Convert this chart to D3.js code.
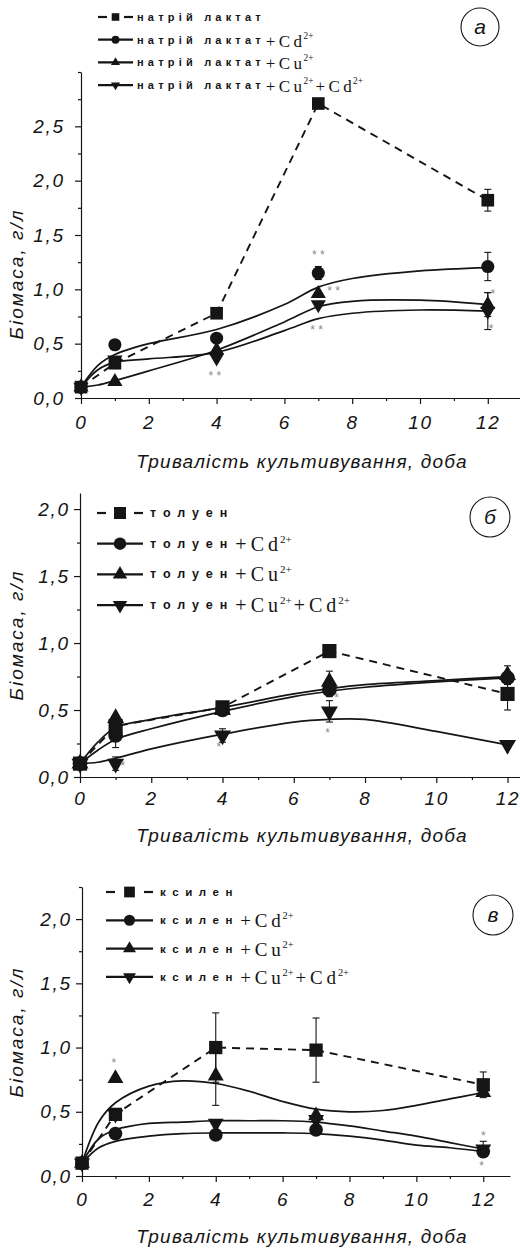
<!DOCTYPE html>
<html>
<head>
<meta charset="utf-8">
<script src="https://cdn.jsdelivr.net/npm/d3@7"></script>
<style>
  body { margin: 0; background: #fff; }
  text { font-family: "Liberation Sans", Arial, sans-serif; }
</style>
</head>
<body>
<svg id="chart" width="520" height="1250"></svg>
<script>
// sampling days (all three panels)
let days = [0, 1, 4, 7, 12];

// panel а - натрій лактат
let lactate = [0.1, 0.32, 0.78, 2.71, 1.82];
let lactateErr = [0, 0, 0, 0, 0.1];
let lactateCd = [0.1, 0.49, 0.55, 1.15, 1.21];
let lactateCdErr = [0, 0, 0, 0.06, 0.13];
let lactateCu = [0.1, 0.15, 0.44, 0.96, 0.86];
let lactateCuErr = [0, 0, 0, 0, 0.11];
let lactateCuCd = [0.1, 0.35, 0.37, 0.86, 0.8];
let lactateCuCdErr = [0, 0, 0, 0, 0.17];
// fitted curves
let lactateFitDays = [0, 0.5, 1, 2, 4, 6, 7, 8, 10, 12];
let lactateCdFit = [0.1, 0.3, 0.4, 0.5, 0.63, 0.86, 1.02, 1.1, 1.17, 1.2];
let lactateCuFit = [0.1, 0.12, 0.16, 0.25, 0.44, 0.7, 0.84, 0.89, 0.9, 0.86];
let lactateCuCdFit = [0.1, 0.26, 0.33, 0.36, 0.42, 0.62, 0.73, 0.78, 0.81, 0.8];
let lactateStars = [[7, 1.34, "* *"], [7.45, 1.01, "* *"], [6.95, 0.65, "* *"], [3.95, 0.23, "* *"], [12.15, 0.98, "*"], [12.1, 0.66, "*"]];

// panel б - толуен
let toluene = [0.1, 0.38, 0.52, 0.94, 0.62];
let tolueneErr = [0, 0, 0, 0, 0.12];
let tolueneCd = [0.1, 0.31, 0.5, 0.65, 0.74];
let tolueneCdErr = [0, 0.09, 0, 0.05, 0];
let tolueneCu = [0.1, 0.44, 0.5, 0.71, 0.76];
let tolueneCuErr = [0, 0, 0, 0.08, 0.07];
let tolueneCuCd = [0.1, 0.1, 0.31, 0.49, 0.24];
let tolueneCuCdErr = [0, 0.05, 0.05, 0.08, 0];
let tolueneFitDays = [0, 0.5, 1, 2, 4, 6, 7, 8, 10, 12];
let tolueneCdFit = [0.1, 0.2, 0.28, 0.36, 0.49, 0.6, 0.64, 0.67, 0.71, 0.74];
let tolueneCuFit = [0.1, 0.26, 0.37, 0.43, 0.52, 0.62, 0.66, 0.69, 0.72, 0.75];
let tolueneCuCdFit = [0.1, 0.11, 0.14, 0.21, 0.32, 0.41, 0.43, 0.43, 0.34, 0.24];
let tolueneStars = [[6.95, 0.35, "*"], [3.9, 0.24, "*"], [1.2, 0.1, "*"], [7.2, 0.61, "*"]];

// panel в - ксилен
let xylene = [0.1, 0.48, 1.0, 0.98, 0.71];
let xyleneErr = [0, 0, 0.27, 0.25, 0.1];
let xyleneCd = [0.1, 0.33, 0.32, 0.36, 0.19];
let xyleneCdErr = [0, 0, 0, 0, 0];
let xyleneCu = [0.1, 0.76, 0.78, 0.47, 0.65];
let xyleneCuErr = [0, 0, 0.23, 0, 0];
let xyleneCuCd = [0.1, 0.48, 0.41, 0.44, 0.21];
let xyleneCuCdErr = [0, 0, 0, 0, 0.06];
let xyleneFitDays = [0, 0.5, 1, 2, 3, 4, 5, 6, 7, 8, 9, 10, 11, 12];
let xyleneCdFit = [0.1, 0.22, 0.27, 0.31, 0.33, 0.335, 0.335, 0.335, 0.33, 0.31, 0.28, 0.24, 0.22, 0.19];
let xyleneCuFit = [0.1, 0.42, 0.57, 0.7, 0.74, 0.72, 0.66, 0.58, 0.52, 0.5, 0.51, 0.55, 0.6, 0.65];
let xyleneCuCdFit = [0.1, 0.29, 0.36, 0.41, 0.42, 0.43, 0.43, 0.43, 0.42, 0.39, 0.35, 0.31, 0.26, 0.21];
let xyleneStars = [[0.95, 0.9, "*"], [12, 0.33, "*"], [11.95, 0.1, "*"]];

// legend: ions added to the substrate
let ions = [[], ["Cd"], ["Cu"], ["Cu", "Cd"]];
let xTicks = [0, 2, 4, 6, 8, 10, 12];
let xMinorTicks = [1, 3, 5, 7, 9, 11];
let yTitle = "Біомаса, г/л";
let xTitle = "Тривалість культивування, доба";

let svg = d3.select("#chart");
let ink = "#151515";

let shapes = [d3.symbolSquare, d3.symbolCircle, d3.symbolTriangle, d3.symbolTriangle];
let turns = [0, 0, 0, 180];
let areas = [160, 135, 100, 100];

let comma = (d) => d3.format(".1f")(d).replace(".", ",");

let drawPanel = (p) => {
  let x = d3.scaleLinear().domain([0, p.xMax]).range([p.left, p.right]);
  let y = d3.scaleLinear().domain([0, p.yMax]).range([p.bottom, p.top]);
  let g = svg.append("g");

  // axes
  let styleAxis = (a) => {
    a.attr("font-family", null).attr("font-size", null);
    a.selectAll("line, path").attr("stroke", ink).attr("stroke-width", 1.2);
    a.selectAll("text")
      .attr("fill", ink)
      .attr("font-size", 19)
      .attr("font-style", "italic")
      .attr("letter-spacing", 1.8);
  };
  g.append("g")
    .attr("transform", "translate(0," + p.bottom + ")")
    .call(d3.axisBottom(x).tickValues(xTicks).tickSize(6).tickSizeOuter(0).tickPadding(p.xPad).tickFormat(d3.format("d")))
    .call(styleAxis);
  g.append("g")
    .attr("transform", "translate(0," + p.bottom + ")")
    .call(d3.axisBottom(x).tickValues(xMinorTicks).tickSize(3).tickFormat(""))
    .call((a) => a.select(".domain").remove())
    .call(styleAxis);
  g.append("g")
    .attr("transform", "translate(" + p.left + ",0)")
    .call(d3.axisLeft(y).tickValues(p.yTicks).tickSize(6).tickSizeOuter(0).tickPadding(p.yPad).tickFormat(comma))
    .call(styleAxis);
  g.append("g")
    .attr("transform", "translate(" + p.left + ",0)")
    .call(d3.axisLeft(y).tickValues(p.yMinorTicks).tickSize(3).tickFormat(""))
    .call((a) => a.select(".domain").remove())
    .call(styleAxis);

  // axis titles
  g.append("text")
    .attr("transform", "translate(23," + p.yTitleY + ") rotate(-90)")
    .attr("text-anchor", "middle")
    .attr("font-size", 19)
    .attr("font-style", "italic")
    .attr("letter-spacing", 2)
    .attr("fill", ink)
    .text(yTitle);
  g.append("text")
    .attr("x", 302)
    .attr("y", p.xTitleY)
    .attr("text-anchor", "middle")
    .attr("font-size", 19)
    .attr("font-style", "italic")
    .attr("letter-spacing", 1.2)
    .attr("fill", ink)
    .text(xTitle);

  // lines: first series dashed through the means, others fitted curves
  p.series.forEach((s, i) => {
    if (i === 0) {
      g.append("path")
        .datum(days)
        .attr("d", d3.line().x((d) => x(d)).y((d, j) => y(s.values[j])))
        .attr("fill", "none")
        .attr("stroke", ink)
        .attr("stroke-width", 1.9)
        .attr("stroke-dasharray", "8,6");
    } else {
      g.append("path")
        .datum(p.fitDays)
        .attr("d", d3.line().curve(d3.curveCatmullRom.alpha(0.5)).x((d) => x(d)).y((d, j) => y(s.fit[j])))
        .attr("fill", "none")
        .attr("stroke", ink)
        .attr("stroke-width", 1.7);
    }
  });

  // error bars
  p.series.forEach((s) => {
    let bars = days
      .map((d, j) => ({ day: d, v: s.values[j], e: s.err[j] }))
      .filter((b) => b.e > 0);
    let eg = g.selectAll(null).data(bars).enter().append("g").attr("stroke", ink).attr("stroke-width", 1.1);
    eg.append("line")
      .attr("x1", (b) => x(b.day)).attr("x2", (b) => x(b.day))
      .attr("y1", (b) => y(b.v - b.e)).attr("y2", (b) => y(b.v + b.e));
    eg.append("line")
      .attr("x1", (b) => x(b.day) - 3.5).attr("x2", (b) => x(b.day) + 3.5)
      .attr("y1", (b) => y(b.v + b.e)).attr("y2", (b) => y(b.v + b.e));
    eg.append("line")
      .attr("x1", (b) => x(b.day) - 3.5).attr("x2", (b) => x(b.day) + 3.5)
      .attr("y1", (b) => y(b.v - b.e)).attr("y2", (b) => y(b.v - b.e));
  });

  // markers
  p.series.forEach((s, i) => {
    g.selectAll(null)
      .data(days)
      .enter()
      .append("path")
      .attr("d", d3.symbol().type(shapes[i]).size(areas[i] * p.mk * p.mk))
      .attr("transform", (d, j) => "translate(" + x(d) + "," + y(s.values[j]) + ") rotate(" + turns[i] + ")")
      .attr("fill", ink);
  });

  // significance stars
  g.selectAll(null)
    .data(p.stars)
    .enter()
    .append("text")
    .attr("x", (d) => x(d[0]))
    .attr("y", (d) => y(d[1]))
    .attr("dy", "0.55em")
    .attr("text-anchor", "middle")
    .attr("font-size", 12)
    .attr("fill", "#8a8a8a")
    .text((d) => d[2]);

  // legend
  let lg = p.legend;
  p.series.forEach((s, i) => {
    let ly = lg.y0 + i * lg.step;
    let mid = (lg.x0 + lg.x1) / 2;
    if (i === 0) {
      g.append("line").attr("x1", lg.x0).attr("x2", lg.x0 + 9).attr("y1", ly).attr("y2", ly)
        .attr("stroke", ink).attr("stroke-width", 2.2);
      g.append("line").attr("x1", lg.x1 - 9).attr("x2", lg.x1).attr("y1", ly).attr("y2", ly)
        .attr("stroke", ink).attr("stroke-width", 2.2);
    } else {
      g.append("line").attr("x1", lg.x0).attr("x2", lg.x1).attr("y1", ly).attr("y2", ly)
        .attr("stroke", ink).attr("stroke-width", 2.2);
    }
    g.append("path")
      .attr("d", d3.symbol().type(shapes[i]).size(areas[i] * lg.mk * lg.mk))
      .attr("transform", "translate(" + mid + "," + ly + ") rotate(" + turns[i] + ")")
      .attr("fill", ink);

    let t = g.append("text").attr("x", lg.tx).attr("y", ly + 4).attr("fill", ink);
    t.append("tspan")
      .attr("font-size", lg.fs)
      .attr("font-weight", "bold")
      .attr("letter-spacing", lg.ls)
      .text(p.word);
    ions[i].forEach((ion, k) => {
      t.append("tspan")
        .attr("font-family", "'Liberation Serif', 'Times New Roman', serif")
        .attr("font-size", lg.serif)
        .attr("letter-spacing", lg.serif * 0.2)
        .attr("dx", k === 0 ? 1 : 2)
        .attr("dy", k === 0 ? 3 : 8)
        .text("+" + ion);
      t.append("tspan")
        .attr("font-family", "'Liberation Serif', 'Times New Roman', serif")
        .attr("font-size", lg.serif * 0.55)
        .attr("dx", -2)
        .attr("dy", -8)
        .text("2+");
    });
  });

  // panel badge
  g.append("circle")
    .attr("cx", p.badge[0]).attr("cy", p.badge[1]).attr("r", p.badge[2])
    .attr("fill", "none").attr("stroke", ink).attr("stroke-width", 1.1);
  g.append("text")
    .attr("x", p.badge[0]).attr("y", p.badge[1] + 7)
    .attr("text-anchor", "middle")
    .attr("font-size", 21)
    .attr("font-style", "italic")
    .attr("fill", ink)
    .text(p.badge[3]);
};

drawPanel({
  left: 81, right: 520, xMax: 12.95, top: 72, bottom: 398, yMax: 3.0,
  yTicks: [0, 0.5, 1, 1.5, 2, 2.5], yMinorTicks: [0.25, 0.75, 1.25, 1.75, 2.25, 2.75, 3.0],
  xPad: 12, yPad: 10, xTitleY: 468, yTitleY: 274, mk: 1.0,
  fitDays: lactateFitDays,
  word: "натрій лактат",
  series: [
    { values: lactate, err: lactateErr },
    { values: lactateCd, err: lactateCdErr, fit: lactateCdFit },
    { values: lactateCu, err: lactateCuErr, fit: lactateCuFit },
    { values: lactateCuCd, err: lactateCuCdErr, fit: lactateCuCdFit }
  ],
  stars: lactateStars,
  legend: { x0: 98, x1: 133, tx: 137, y0: 17, step: 22.7, fs: 11, ls: 4.2, serif: 17, mk: 0.6 },
  badge: [480, 27, 19, "а"]
});

drawPanel({
  left: 80, right: 520, xMax: 12.35, top: 493, bottom: 777, yMax: 2.12,
  yTicks: [0, 0.5, 1, 1.5, 2], yMinorTicks: [0.25, 0.75, 1.25, 1.75],
  xPad: 9, yPad: 4, xTitleY: 842, yTitleY: 635, mk: 1.12,
  fitDays: tolueneFitDays,
  word: "толуен",
  series: [
    { values: toluene, err: tolueneErr },
    { values: tolueneCd, err: tolueneCdErr, fit: tolueneCdFit },
    { values: tolueneCu, err: tolueneCuErr, fit: tolueneCuFit },
    { values: tolueneCuCd, err: tolueneCuCdErr, fit: tolueneCuCdFit }
  ],
  stars: tolueneStars,
  legend: { x0: 97, x1: 143, tx: 150, y0: 513, step: 30.7, fs: 12.5, ls: 7, serif: 20, mk: 0.95 },
  badge: [490, 517, 20, "б"]
});

drawPanel({
  left: 82, right: 510, xMax: 12.8, top: 887, bottom: 1176, yMax: 2.25,
  yTicks: [0, 0.5, 1, 1.5, 2], yMinorTicks: [0.25, 0.75, 1.25, 1.75, 2.25],
  xPad: 11, yPad: 4, xTitleY: 1243, yTitleY: 1032, mk: 1.05,
  fitDays: xyleneFitDays,
  word: "ксилен",
  series: [
    { values: xylene, err: xyleneErr },
    { values: xyleneCd, err: xyleneCdErr, fit: xyleneCdFit },
    { values: xyleneCu, err: xyleneCuErr, fit: xyleneCuFit },
    { values: xyleneCuCd, err: xyleneCuCdErr, fit: xyleneCuCdFit }
  ],
  stars: xyleneStars,
  legend: { x0: 106, x1: 153, tx: 160, y0: 892, step: 28.3, fs: 11.5, ls: 6.6, serif: 19, mk: 0.85 },
  badge: [493, 915, 20, "в"]
});
</script>
</body>
</html>
